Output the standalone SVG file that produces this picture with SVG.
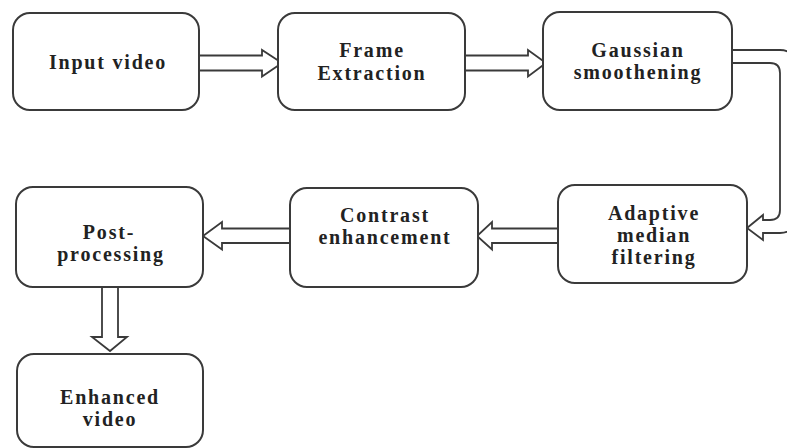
<svg xmlns="http://www.w3.org/2000/svg" width="787" height="448" viewBox="0 0 787 448">
<style>
.box{fill:#fff;stroke:#3a3a3a;stroke-width:2}
.arr{fill:#fff;stroke:#3a3a3a;stroke-width:1.8;stroke-linejoin:miter}
text{font-family:"Liberation Serif","Times New Roman",serif;font-weight:bold;font-size:20px;letter-spacing:1.8px;fill:#222;text-anchor:middle}
</style>
<rect width="787" height="448" fill="#fff"/>
<g id="connectors">
<path class="arr" d="M199,55.5 H262 V50 L282,63 L262,76.5 V70.5 H199"/>
<path class="arr" d="M465,55.5 H528 V50 L546,63 L528,76.5 V70.5 H465"/>
<path class="arr" d="M731,50 H780 Q794,50 794,64 V219 Q794,233 780,233 H763 V240 L747,228 L763,215 V220 H770 Q780,220 780,210 V73 Q780,63 770,63 H731"/>
<path class="arr" d="M558,228.5 H492 V222 L477,236 L492,249.5 V243 H558"/>
<path class="arr" d="M290,228.5 H222 V222 L203,236 L222,249.5 V243 H290"/>
<path class="arr" d="M102,287 V337 H92 L110,351 L127,337 H118 V287"/>
</g>
<g id="n1"><rect class="box" x="13" y="13" width="186" height="97" rx="17"/><text x="108" y="69">Input video</text></g>
<g id="n2"><rect class="box" x="278" y="13" width="187" height="97" rx="17"/><text x="372" y="57">Frame</text><text x="372" y="80">Extraction</text></g>
<g id="n3"><rect class="box" x="543" y="12" width="189" height="98" rx="17"/><text x="638" y="57">Gaussian</text><text x="638" y="79">smoothening</text></g>
<g id="n4"><rect class="box" x="558" y="185" width="189" height="98" rx="17"/><text x="654" y="220">Adaptive</text><text x="654" y="242">median</text><text x="654" y="264">filtering</text></g>
<g id="n5"><rect class="box" x="290" y="188" width="188" height="99" rx="17"/><text x="385" y="222">Contrast</text><text x="385" y="244">enhancement</text></g>
<g id="n6"><rect class="box" x="16" y="187" width="187" height="100" rx="17"/><text x="109" y="239">Post-</text><text x="111" y="261">processing</text></g>
<g id="n7"><rect class="box" x="17" y="354" width="186" height="93" rx="17"/><text x="110" y="404">Enhanced</text><text x="110" y="426">video</text></g>
</svg>
